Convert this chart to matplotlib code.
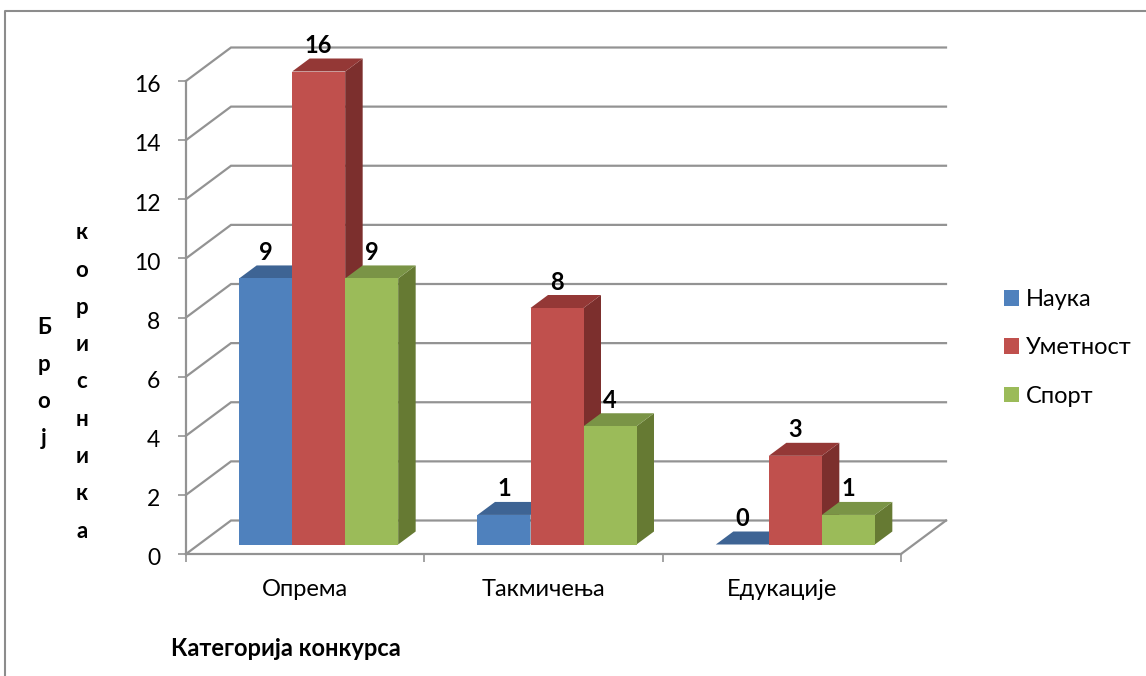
import matplotlib
matplotlib.use('Agg')
import matplotlib.pyplot as plt
import matplotlib.transforms as mtrans
import numpy as np

plt.rcParams['font.family'] = ['Lato', 'Open Sans', 'DejaVu Sans']

categories = ['Опрема', 'Такмичења', 'Едукације']
series_names = ['Наука', 'Уметност', 'Спорт']
nauka = [9, 1, 0]
umetnost = [16, 8, 3]
sport = [9, 4, 1]
y_ticks = [0, 2, 4, 6, 8, 10, 12, 14, 16]

front_colors = ['#4F81BD', '#C0504D', '#9BBB59']
top_colors = ['#3E6494', '#943836', '#7A9446']
side_colors = ['#335379', '#7C2F2D', '#667A33']
grid_color = '#939393'

W, H = 1146, 676
fig = plt.figure(figsize=(W / 100, H / 100), dpi=100)
# axes box is the front plane of the 3d chart
ax = fig.add_axes([186 / W, 1 - 554 / H, 715 / W, 473 / H])
ax.set_xlim(0, 3)
ax.set_ylim(0, 16)

px_x = 3 / 715
px_y = 16 / 473
# wall depth and bar depth, in data units
wall_dx, wall_dy = 45 * px_x, 33.5 * px_y
bar_dx, bar_dy = 17.5 * px_x, 13 * px_y
bar_w = 53 * px_x
shift_x, shift_y = 13.5 * px_x, 9.5 * px_y

# back wall and floor lines
for t in y_ticks:
    ax.plot([0, wall_dx, 3 + wall_dx], [t, t + wall_dy, t + wall_dy], color=grid_color, lw=1.6,
            clip_on=False, zorder=1, solid_joinstyle='miter')
ax.plot([3, 3 + wall_dx], [0, wall_dy], color=grid_color, lw=1.6, clip_on=False, zorder=1)

all_series = [nauka, umetnost, sport]
z = 2
for c in range(len(categories)):
    for s, values in enumerate(all_series):
        v = values[c]
        left = c + 0.5 + (s - 1.5) * bar_w + shift_x
        right = left + bar_w
        # side and top faces
        ax.fill([right, right + bar_dx, right + bar_dx, right],
                [shift_y, shift_y + bar_dy, shift_y + v + bar_dy, shift_y + v],
                color=side_colors[s], lw=0, clip_on=False, zorder=z)
        ax.fill([left, left + bar_dx, right + bar_dx, right],
                [shift_y + v, shift_y + v + bar_dy, shift_y + v + bar_dy, shift_y + v],
                color=top_colors[s], lw=0, clip_on=False, zorder=z)
        ax.bar(left, v, width=bar_w, bottom=shift_y, align='edge', color=front_colors[s], lw=0,
               clip_on=False, zorder=z, label=series_names[s] if c == 0 else None)
        ax.text(left + bar_w / 2, shift_y + v + 26 * px_y, str(v), ha='center', va='center',
                fontsize=17, fontweight='bold', color='black', zorder=50)
        z += 1

for name in ['top', 'right']:
    ax.spines[name].set_visible(False)
for name in ['left', 'bottom']:
    ax.spines[name].set_color(grid_color)
    ax.spines[name].set_linewidth(1.6)
ax.patch.set_alpha(0)

ax.set_yticks(y_ticks)
ax.tick_params(axis='y', length=5.5, width=1.2, color=grid_color, pad=13, labelsize=16.5, labelcolor='black')
# tick numbers sit slightly under their tick in the reference
nudge = mtrans.ScaledTranslation(0, -2 / 72, fig.dpi_scale_trans)
for lab in ax.get_yticklabels():
    lab.set_transform(lab.get_transform() + nudge)
ax.set_xticks([0, 1, 2, 3])
ax.set_xticklabels([])
ax.tick_params(axis='x', which='major', length=5.5, width=1.2, color=grid_color)
ax.set_xticks([0.5, 1.5, 2.5], minor=True)
ax.set_xticklabels(categories, minor=True)
ax.tick_params(axis='x', which='minor', length=0, pad=18, labelsize=17, labelcolor='black')

fig.text(286 / W, 1 - 649 / H, 'Категорија конкурса', ha='center', va='center', fontsize=17, fontweight='bold')
fig.text(44 / W, 1 - 383 / H, '\n'.join('Број'), ha='center', va='center', fontsize=16, fontweight='bold',
         linespacing=1.96)
fig.text(82 / W, 1 - 382 / H, '\n'.join('корисника'), ha='center', va='center', fontsize=16, fontweight='bold',
         linespacing=1.96)

ax.legend(loc='center left', bbox_to_anchor=(1004 / W, 1 - 348 / H), bbox_transform=fig.transFigure,
          frameon=False, fontsize=17, handlelength=0.635, handleheight=0.635, handletextpad=0.3,
          labelspacing=1.15, borderpad=0, borderaxespad=0)

# outer chart frame, only top and left show in the picture
fig.add_artist(plt.Line2D([5 / W, 5 / W, 1], [0, 1 - 11 / H, 1 - 11 / H], color='#8C8C8C', lw=1.5,
                          transform=fig.transFigure))

fig.savefig('out.png', dpi=100)
